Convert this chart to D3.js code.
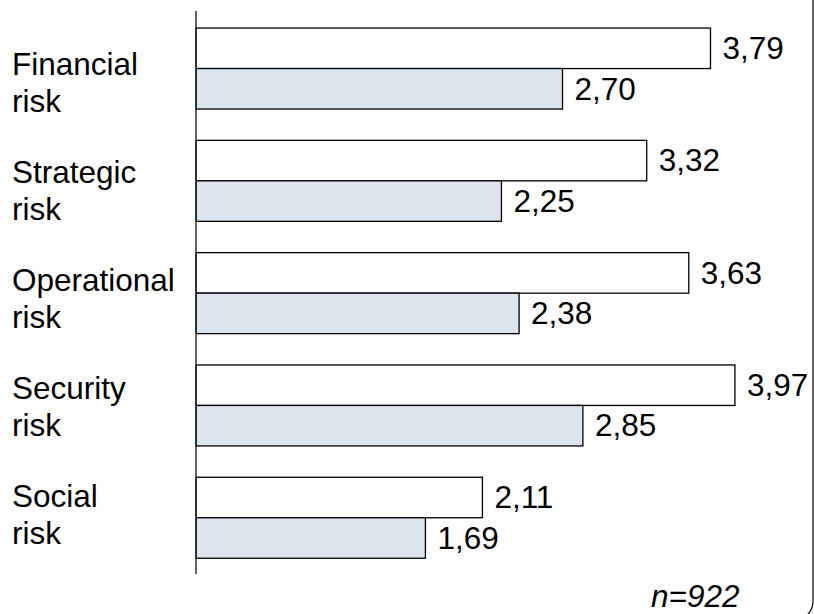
<!DOCTYPE html>
<html>
<head>
<meta charset="utf-8">
<script src="https://cdn.jsdelivr.net/npm/d3@7/dist/d3.min.js"></script>
<style>
  html, body { margin: 0; padding: 0; background: #fff; }
  svg { display: block; }
  text { font-family: "Liberation Sans", Arial, sans-serif; fill: #000; }
</style>
</head>
<body>
<svg id="chart" width="814" height="614"></svg>
<script>
const categories = ["Financial risk", "Strategic risk", "Operational risk", "Security risk", "Social risk"];
const labelLines = [["Financial", "risk"], ["Strategic", "risk"], ["Operational", "risk"], ["Security", "risk"], ["Social", "risk"]];
const seriesNames = ["Series 1", "Series 2"];
const series1 = [3.79, 3.32, 3.63, 3.97, 2.11];
const series2 = [2.70, 2.25, 2.38, 2.85, 1.69];
const sampleNote = "n=922";

const svg = d3.select("#chart");
const fontSize = 31.5;

// frame (rounded rectangle, only right edge and bottom-right corner visible)
svg.append("rect")
  .attr("x", -30).attr("y", -30)
  .attr("width", 843).attr("height", 651)
  .attr("rx", 20).attr("ry", 20)
  .attr("fill", "none").attr("stroke", "#000").attr("stroke-width", 1.2);

const x = d3.scaleLinear().domain([0, 4]).range([196, 196 + 4 * 135.75]);
const y = d3.scaleBand().domain(categories).range([12.4, 573.9])
  .paddingInner(0.279).paddingOuter(0.1395);
const ySub = d3.scaleBand().domain(seriesNames).range([0, y.bandwidth()]);
const yLabel = d3.scalePoint().domain(categories).range([74.5, 506.5]);

const locale = d3.formatLocale({ decimal: ",", thousands: ".", grouping: [3], currency: ["", ""] });
const fmt = locale.format(".2f");

const rows = categories.map((c, i) => ({ cat: c, lines: labelLines[i], vals: [series1[i], series2[i]] }));
const fills = { "Series 1": "#ffffff", "Series 2": "#dde4ee" };

const g = svg.append("g");
rows.forEach(r => {
  seriesNames.forEach((s, j) => {
    const v = r.vals[j];
    const y0 = y(r.cat) + ySub(s);
    g.append("rect")
      .attr("x", x(0)).attr("y", y0)
      .attr("width", x(v) - x(0)).attr("height", ySub.bandwidth())
      .attr("fill", fills[s]).attr("stroke", "#000").attr("stroke-width", 1.3);
    g.append("text")
      .attr("x", x(v) + 12).attr("y", y0 + ySub.bandwidth() / 2 + 10.8)
      .attr("font-size", fontSize)
      .text(fmt(v));
  });
  const t = g.append("text").attr("x", 12).attr("y", yLabel(r.cat)).attr("font-size", fontSize);
  r.lines.forEach((ln, k) => {
    t.append("tspan").attr("x", 12).attr("dy", k === 0 ? 0 : 37.4).text(ln);
  });
});

// axis line
const axis = d3.axisLeft(y).tickSize(0).tickFormat("");
const ag = svg.append("g").attr("transform", `translate(${x(0)},0)`).call(axis);
ag.select(".domain").attr("d", "M0,11V574").attr("stroke", "#222").attr("stroke-width", 1.4);

svg.append("text")
  .attr("x", 651).attr("y", 607)
  .attr("font-size", fontSize).attr("font-style", "italic")
  .text(sampleNote);
</script>
</body>
</html>
